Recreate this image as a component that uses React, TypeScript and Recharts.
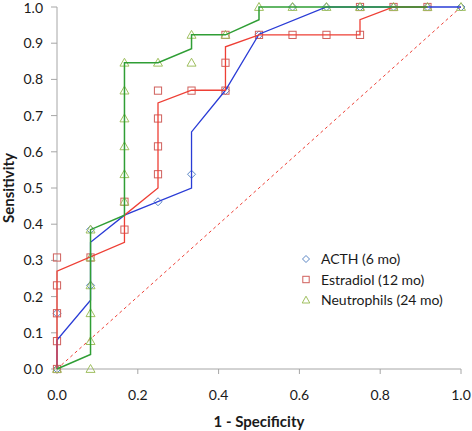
import React from 'react';
import { ScatterChart, Scatter, XAxis, YAxis } from 'recharts';

const xTicks = [0, 0.2, 0.4, 0.6, 0.8, 1.0];
const yTicks = [0, 0.1, 0.2, 0.3, 0.4, 0.5, 0.6, 0.7, 0.8, 0.9, 1.0];

const acthPoints = [
  { x: 0, y: 0 }, { x: 0, y: 0.154 }, { x: 0.083, y: 0.231 }, { x: 0.083, y: 0.385 },
  { x: 0.25, y: 0.462 }, { x: 0.333, y: 0.538 }, { x: 0.417, y: 0.769 }, { x: 0.5, y: 0.923 },
  { x: 0.583, y: 1 }, { x: 0.667, y: 1 }, { x: 0.75, y: 1 }, { x: 0.833, y: 1 },
  { x: 0.917, y: 1 }, { x: 1, y: 1 },
];
const acthCurve = [
  { x: 0, y: 0 }, { x: 0, y: 0.08 }, { x: 0.083, y: 0.19 }, { x: 0.083, y: 0.35 },
  { x: 0.167, y: 0.425 }, { x: 0.333, y: 0.5 }, { x: 0.333, y: 0.655 }, { x: 0.417, y: 0.77 },
  { x: 0.5, y: 0.925 }, { x: 0.667, y: 1 }, { x: 1, y: 1 },
];

const estradiolPoints = [
  { x: 0, y: 0 }, { x: 0, y: 0.077 }, { x: 0, y: 0.154 }, { x: 0, y: 0.231 }, { x: 0, y: 0.308 },
  { x: 0.083, y: 0.308 }, { x: 0.167, y: 0.385 }, { x: 0.167, y: 0.462 },
  { x: 0.25, y: 0.538 }, { x: 0.25, y: 0.615 }, { x: 0.25, y: 0.692 }, { x: 0.25, y: 0.769 },
  { x: 0.333, y: 0.769 }, { x: 0.417, y: 0.769 }, { x: 0.417, y: 0.846 }, { x: 0.417, y: 0.923 },
  { x: 0.5, y: 0.923 }, { x: 0.583, y: 0.923 }, { x: 0.667, y: 0.923 }, { x: 0.75, y: 0.923 },
  { x: 0.75, y: 1 }, { x: 0.833, y: 1 }, { x: 0.917, y: 1 },
];
const estradiolCurve = [
  { x: 0, y: 0 }, { x: 0, y: 0.27 }, { x: 0.167, y: 0.35 }, { x: 0.167, y: 0.425 },
  { x: 0.25, y: 0.5 }, { x: 0.25, y: 0.735 }, { x: 0.333, y: 0.77 }, { x: 0.417, y: 0.77 },
  { x: 0.417, y: 0.89 }, { x: 0.5, y: 0.923 }, { x: 0.75, y: 0.923 }, { x: 0.75, y: 0.965 },
  { x: 0.833, y: 1 }, { x: 0.917, y: 1 },
];

const neutrophilPoints = [
  { x: 0, y: 0 }, { x: 0.083, y: 0 }, { x: 0.083, y: 0.077 }, { x: 0.083, y: 0.154 },
  { x: 0.083, y: 0.231 }, { x: 0.083, y: 0.308 }, { x: 0.083, y: 0.385 },
  { x: 0.167, y: 0.462 }, { x: 0.167, y: 0.538 }, { x: 0.167, y: 0.615 }, { x: 0.167, y: 0.692 },
  { x: 0.167, y: 0.769 }, { x: 0.167, y: 0.846 }, { x: 0.25, y: 0.846 }, { x: 0.333, y: 0.846 },
  { x: 0.333, y: 0.923 }, { x: 0.417, y: 0.923 }, { x: 0.5, y: 1 }, { x: 0.583, y: 1 },
  { x: 0.667, y: 1 }, { x: 0.75, y: 1 }, { x: 0.833, y: 1 }, { x: 0.917, y: 1 }, { x: 1, y: 1 },
];
const neutrophilCurve = [
  { x: 0, y: 0 }, { x: 0.083, y: 0.04 }, { x: 0.083, y: 0.385 }, { x: 0.167, y: 0.425 },
  { x: 0.167, y: 0.846 }, { x: 0.25, y: 0.846 }, { x: 0.333, y: 0.885 }, { x: 0.333, y: 0.923 },
  { x: 0.417, y: 0.923 }, { x: 0.5, y: 0.965 }, { x: 0.5, y: 1 }, { x: 0.917, y: 1 },
];

const chanceLine = [{ x: 0, y: 0 }, { x: 1, y: 1 }];

const seriesNames = ['ACTH (6 mo)', 'Estradiol (12 mo)', 'Neutrophils (24 mo)'];

const BLUE_M = '#5b86c4';
const RED_M = '#d0605c';
const GREEN_M = '#9fbf5f';
const BLUE_L = '#2a3cd6';
const RED_L = '#ee3f35';
const GREEN_L = '#2f9e35';
const FONT = 'Lato, "Open Sans", sans-serif';

const Diamond = (props: any) => {
  const { cx, cy } = props;
  const r = 4;
  return <path d={`M${cx},${cy - r}L${cx + r},${cy}L${cx},${cy + r}L${cx - r},${cy}Z`} fill="none" stroke={BLUE_M} strokeWidth={1} />;
};
const Square = (props: any) => {
  const { cx, cy } = props;
  const r = 3.6;
  return <rect x={cx - r} y={cy - r} width={2 * r} height={2 * r} fill="none" stroke={RED_M} strokeWidth={1} />;
};
const Triangle = (props: any) => {
  const { cx, cy } = props;
  const r = 4.5;
  return <path d={`M${cx},${cy - r}L${cx + r},${cy + r * 0.75}L${cx - r},${cy + r * 0.75}Z`} fill="none" stroke={GREEN_M} strokeWidth={1} />;
};
const NoShape = () => <g />;

const legendMarkers = [
  (cx: number, cy: number) => <path d={`M${cx},${cy - 3.5}L${cx + 3.5},${cy}L${cx},${cy + 3.5}L${cx - 3.5},${cy}Z`} fill="none" stroke={BLUE_M} />,
  (cx: number, cy: number) => <rect x={cx - 3.2} y={cy - 3.2} width={6.4} height={6.4} fill="none" stroke={RED_M} />,
  (cx: number, cy: number) => <path d={`M${cx},${cy - 3.8}L${cx + 3.8},${cy + 3}L${cx - 3.8},${cy + 3}Z`} fill="none" stroke={GREEN_M} />,
];

export default function App() {
  return (
    <div style={{ position: 'absolute', left: 0, top: 0, width: 472, height: 431, background: '#fff' }}>
      <ScatterChart width={472} height={431} margin={{ top: 7, right: 11, left: 0, bottom: 0 }}>
        <XAxis
          type="number"
          dataKey="x"
          domain={[0, 1]}
          ticks={xTicks}
          tickFormatter={(v: number) => v.toFixed(1)}
          height={62}
          tickSize={5}
          tickMargin={16}
          stroke="#a6a6a6"
          tick={{ fill: '#1a1a1a', fontSize: 14, fontFamily: FONT }}
          label={{ value: '1 - Specificity', position: 'insideBottom', offset: 4, style: { fontWeight: 'bold', fontSize: 15, fontFamily: FONT, fill: '#1a1a1a' } }}
        />
        <YAxis
          type="number"
          dataKey="y"
          domain={[0, 1]}
          ticks={yTicks}
          tickFormatter={(v: number) => v.toFixed(1)}
          width={57}
          tickSize={6}
          tickMargin={8}
          stroke="#a6a6a6"
          tick={{ fill: '#1a1a1a', fontSize: 14, fontFamily: FONT }}
          label={{ value: 'Sensitivity', angle: -90, position: 'insideLeft', offset: 9, style: { textAnchor: 'middle', fontWeight: 'bold', fontSize: 15, fontFamily: FONT, fill: '#1a1a1a' } }}
        />
        <Scatter name="chance" data={chanceLine} line={{ stroke: RED_L, strokeWidth: 1, strokeDasharray: '3 3' }} shape={NoShape} isAnimationActive={false} legendType="none" />
        <Scatter name={seriesNames[0]} data={acthPoints} shape={Diamond} isAnimationActive={false} />
        <Scatter name={seriesNames[1]} data={estradiolPoints} shape={Square} isAnimationActive={false} />
        <Scatter name={seriesNames[2]} data={neutrophilPoints} shape={Triangle} isAnimationActive={false} />
        <Scatter name="acthCurve" data={acthCurve} line={{ stroke: BLUE_L, strokeWidth: 1.3 }} shape={NoShape} isAnimationActive={false} legendType="none" />
        <Scatter name="estradiolCurve" data={estradiolCurve} line={{ stroke: RED_L, strokeWidth: 1.3 }} shape={NoShape} isAnimationActive={false} legendType="none" />
        <Scatter name="neutrophilCurve" data={neutrophilCurve} line={{ stroke: GREEN_L, strokeWidth: 1.5 }} shape={NoShape} isAnimationActive={false} legendType="none" />
      </ScatterChart>
      <svg width={170} height={70} style={{ position: 'absolute', left: 300, top: 249 }}>
        {seriesNames.map((n, i) => (
          <g key={n}>
            {legendMarkers[i](6, 10 + i * 20.5)}
            <text x={21} y={10 + i * 20.5} dy="0.36em" fontFamily={FONT} fontSize={14} fill="#1a1a1a">{n}</text>
          </g>
        ))}
      </svg>
    </div>
  );
}
